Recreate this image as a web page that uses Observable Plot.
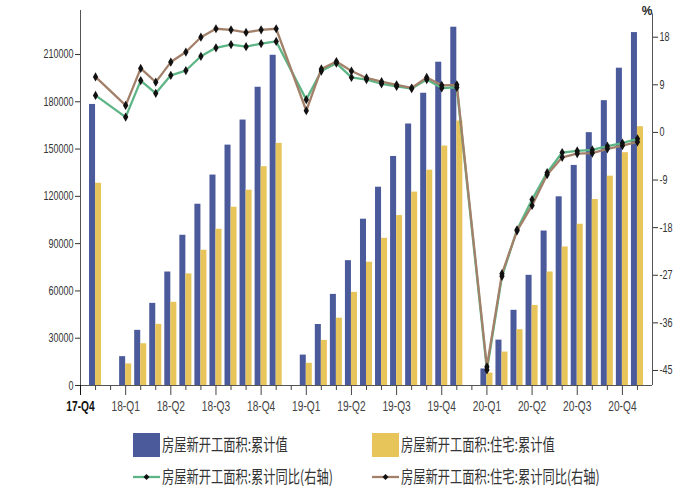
<!DOCTYPE html>
<html><head><meta charset="utf-8">
<script src="https://cdn.jsdelivr.net/npm/d3@7"></script>
<script src="https://cdn.jsdelivr.net/npm/@observablehq/plot@0.6"></script>
<style>
body{margin:0;background:#fff;width:700px;height:500px;overflow:hidden;font-family:"Liberation Sans",Arial,sans-serif}
#legend{position:relative;height:80px;width:700px}
.sw{position:absolute;width:27px;height:24px}
.ic{position:absolute;width:27px;height:12px}
.lt{position:absolute;font-family:"Noto Sans CJK SC",sans-serif;font-size:17px;color:#333;white-space:nowrap;transform:scaleX(0.72);transform-origin:0 50%;line-height:24px}
</style></head><body><div id="chart"></div><div id="legend"></div>
<script>
// ---- data ----
const periods = ["2017-12",
  "2018-02","2018-03","2018-04","2018-05","2018-06","2018-07","2018-08","2018-09","2018-10","2018-11","2018-12",
  "2019-02","2019-03","2019-04","2019-05","2019-06","2019-07","2019-08","2019-09","2019-10","2019-11","2019-12",
  "2020-02","2020-03","2020-04","2020-05","2020-06","2020-07","2020-08","2020-09","2020-10","2020-11","2020-12"];
const totalArea = [178300,
  18300,35000,52100,72000,95300,115000,133500,152500,168400,189200,209500,
  19300,38700,57800,79200,105500,125800,145300,165900,185400,205100,227300,
  10500,28800,47700,69900,98000,119700,139600,160400,180700,201300,223900];
const residArea = [128300,
  13700,26500,38800,52800,70800,85800,99100,113100,123900,138800,153600,
  14100,28600,42700,59100,78200,93400,107800,122700,136600,151900,167800,
  7900,21200,35400,50800,72000,87900,102300,118000,132800,147700,164200];
const totalYoY = [7.0,
  2.9,9.8,7.4,10.8,11.7,14.4,16.0,16.6,16.2,16.8,17.2,
  6.2,11.6,13.1,10.4,10.0,9.2,8.7,8.3,10.0,8.4,8.5,
  -44.9,-27.2,-18.4,-12.7,-7.6,-3.8,-3.5,-3.3,-2.6,-2.0,-1.2];
const residYoY = [10.5,
  5.1,12.1,9.5,13.3,15.2,18.0,19.6,19.4,18.9,19.4,19.6,
  4.1,12.0,13.4,11.6,10.3,9.6,9.0,8.4,10.4,8.9,9.0,
  -44.3,-26.7,-18.6,-13.8,-8.0,-4.7,-4.0,-3.9,-3.1,-2.5,-1.8];
const tickLabels = ["17-Q4","18-Q1","18-Q2","18-Q3","18-Q4","19-Q1","19-Q2","19-Q3","19-Q4","20-Q1","20-Q2","20-Q3","20-Q4"];
const leftTicks = [0,30000,60000,90000,120000,150000,180000,210000];
const rightTickVals = [18,9,0,-9,-18,-27,-36,-45];
const seriesNames = ["房屋新开工面积:累计值","房屋新开工面积:住宅:累计值","房屋新开工面积:累计同比(右轴)","房屋新开工面积:住宅:累计同比(右轴)"];

// ---- styles ----
const BLUE="#4b5a9b", YEL="#e8c55b", GREEN="#5db585", BROWN="#a3806a", AX="#555";
const yMax=237900, rMin=-47.84, rMax=23.05;
const toL = r => (r - rMin)/(rMax - rMin)*yMax;
const fromL = v => rMin + v/yMax*(rMax - rMin);
const idx = p => { const [y,m]=p.split("-").map(Number); return (y-2017)*12 + m - 11; };
const rows = periods.map((p,k)=>({i: idx(p), total: totalArea[k], res: residArea[k], g: totalYoY[k], b: residYoY[k]}));
const majorIdx = tickLabels.map((_,k)=>k*3);
const minorIdx = d3.range(0,38).filter(i=>i%3);

const chart = Plot.plot({
  width:700, height:420, marginLeft:80, marginRight:48, marginTop:10, marginBottom:35,
  x:{type:"linear", domain:[0,38], axis:null, label:null},
  y:{domain:[0,yMax], axis:null, label:null},
  style:{fontFamily:"Liberation Sans, Arial, sans-serif", background:"#fff"},
  marks:[
    Plot.rect(rows,{x1:d=>d.i-0.4, x2:d=>d.i, y1:0, y2:"total", fill:BLUE}),
    Plot.rect(rows,{x1:d=>d.i, x2:d=>d.i+0.4, y1:0, y2:"res", fill:YEL}),
    Plot.line(rows,{x:"i", y:d=>toL(d.g), stroke:GREEN, strokeWidth:2.3}),
    Plot.line(rows,{x:"i", y:d=>toL(d.b), stroke:BROWN, strokeWidth:2.3}),
    Plot.dot(rows,{x:"i", y:d=>toL(d.g), symbol:"diamond", r:2.8, fill:"#111"}),
    Plot.dot(rows,{x:"i", y:d=>toL(d.b), symbol:"diamond", r:2.8, fill:"#111"}),
    Plot.ruleX([0],{stroke:AX}),
    Plot.ruleX([38],{stroke:AX, y1:0, y2:toL(22.4)}),
    Plot.ruleY([0],{stroke:AX}),
    Plot.axisY({anchor:"left", ticks:leftTicks, tickFormat:d3.format("d"), tickSize:5, tickPadding:2, fontSize:12.5, color:"#333"}),
    Plot.axisY({anchor:"right", ticks:rightTickVals.map(toL), tickFormat:v=>String(Math.round(fromL(v))), tickSize:5, tickPadding:2, fontSize:12.5, color:"#333"}),
    Plot.axisX({ticks:majorIdx.slice(1), tickFormat:i=>tickLabels[i/3], tickSize:10, tickPadding:5, fontSize:15, color:"#444"}),
    Plot.axisX({ticks:[0], tickFormat:()=>tickLabels[0], tickSize:10, tickPadding:5, fontSize:15, fontWeight:"bold", color:"#111"}),
    Plot.axisX({ticks:minorIdx, tickFormat:()=>"", tickSize:5, color:"#444"}),
    Plot.text(["%"],{frameAnchor:"top-right", dx:0, dy:-4, fontSize:12, fontWeight:"bold", fill:"#222"})
  ]
});
document.getElementById("chart").appendChild(chart);

// horizontal compression of tick labels to match the narrow face
function squeeze(sel, s){
  d3.select(chart).selectAll(sel).each(function(){
    const t = this.getAttribute("transform") || "";
    const x = +this.getAttribute("x") || 0;
    this.setAttribute("transform", `${t} translate(${x},0) scale(${s},1) translate(${-x},0)`);
  });
}
squeeze('g[aria-label="y-axis tick label"] text', 0.72);
squeeze('g[aria-label="x-axis tick label"] text', 0.68);

// ---- legend ----
const lg = document.getElementById("legend");
const items = [
  {x:133, y:13, type:"sw", color:BLUE},
  {x:372, y:13, type:"sw", color:YEL},
  {x:133, y:45, type:"ln", color:GREEN},
  {x:372, y:45, type:"ln", color:BROWN}
];
items.forEach((it,k)=>{
  if(it.type==="sw"){
    const d=document.createElement("div"); d.className="sw";
    d.style.left=it.x+"px"; d.style.top=it.y+"px"; d.style.background=it.color; lg.appendChild(d);
  } else {
    const ns="http://www.w3.org/2000/svg";
    const s=document.createElementNS(ns,"svg"); s.setAttribute("class","ic");
    s.setAttribute("width",27); s.setAttribute("height",12);
    s.style.left=it.x+"px"; s.style.top=(it.y+6)+"px";
    s.innerHTML=`<line x1="0" y1="6" x2="27" y2="6" stroke="${it.color}" stroke-width="2.3"/><path d="M13.5,3L16.5,6L13.5,9L10.5,6Z" fill="#111"/>`;
    lg.appendChild(s);
  }
  const t=document.createElement("div"); t.className="lt";
  t.style.left=(it.x+29)+"px"; t.style.top=(it.y-1)+"px"; t.textContent=seriesNames[k];
  lg.appendChild(t);
});
</script></body></html>
